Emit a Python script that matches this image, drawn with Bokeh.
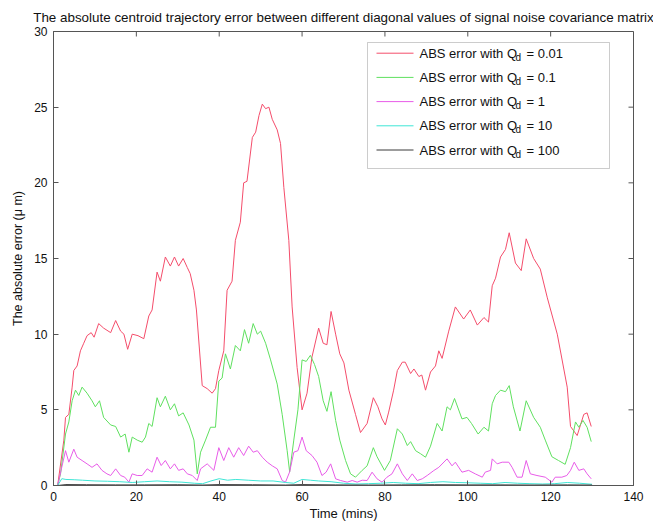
from bokeh.plotting import figure
from bokeh.models import FixedTicker, Label, BoxAnnotation, Range1d
from bokeh.embed import file_html
from bokeh.resources import INLINE

# ---------------- data ----------------
red_t = [1.0, 2.5, 2.9, 3.7, 4.5, 4.9, 5.7, 6.5, 7.3, 8.1, 9.1, 9.8, 10.9, 12.1, 13.8, 15.0,
         16.2, 17.0, 17.9, 19.0, 20.4, 21.8, 23.0, 23.8, 25.0, 25.8, 27.0, 28.2, 29.2, 30.2,
         31.3, 32.3, 33.0, 33.9, 34.5, 35.9, 37.1, 38.3, 39.1, 39.9, 41.1, 41.9, 43.1, 43.9,
         45.1, 45.9, 46.7, 48.0, 48.8, 49.6, 50.4, 51.2, 52.0, 52.8, 54.0, 54.8, 55.6, 56.8,
         57.6, 58.8, 60.0, 61.2, 62.4, 64.0, 65.1, 66.0, 67.0, 68.1, 69.1, 70.1, 71.3, 72.9,
         74.1, 75.7, 77.2, 78.3, 79.3, 80.1, 80.9, 82.1, 83.0, 84.2, 84.9, 86.2, 87.0, 88.2,
         88.9, 89.8, 91.0, 92.2, 93.0, 93.8, 95.4, 97.0, 99.0, 100.6, 102.3, 103.9, 105.0,
         105.9, 106.7, 107.9, 109.1, 110.0, 111.5, 112.9, 114.1, 115.9, 117.5, 119.2, 121.6,
         124.0, 124.8, 126.4, 128.0, 128.8, 129.8]
red_y = [0.0, 3.0, 4.5, 4.7, 6.5, 7.6, 7.9, 8.9, 9.4, 9.9, 10.1, 9.8, 10.7, 10.4, 10.1, 10.9,
         10.2, 10.0, 9.0, 10.0, 9.9, 9.7, 11.2, 11.6, 14.1, 13.5, 15.1, 14.5, 15.1, 14.5,
         15.0, 14.4, 14.0, 12.9, 11.6, 6.6, 6.4, 6.1, 6.4, 7.6, 8.9, 12.9, 13.5, 16.2,
         17.4, 20.0, 20.1, 23.0, 23.35, 24.45, 25.2, 24.9, 25.0, 24.2, 23.5, 22.6, 19.7, 16.2,
         11.8, 7.8, 5.0, 6.1, 8.5, 10.4, 9.4, 9.3, 11.5, 10.0, 8.7, 8.1, 6.3, 4.7,
         3.5, 4.1, 5.8, 5.2, 4.4, 4.0, 4.85, 6.3, 7.6, 8.15, 8.15, 7.4, 7.7, 7.2,
         7.3, 6.3, 7.5, 7.9, 8.9, 8.4, 10.2, 11.8, 11.0, 11.6, 10.6, 11.1, 10.8,
         13.2, 13.7, 15.1, 15.6, 16.7, 14.7, 14.2, 16.3, 15.0, 14.3, 12.4, 10.0,
         6.5, 3.9, 3.3, 4.7, 4.8, 3.9]

green_t = [1.0, 1.7, 2.9, 3.7, 4.5, 5.3, 6.1, 6.9, 8.1, 9.3, 10.1, 11.1, 12.1, 13.8, 15.0,
           16.2, 17.3, 18.2, 19.0, 20.2, 21.4, 22.2, 23.0, 23.8, 25.0, 25.8, 27.0, 28.2, 29.2,
           30.2, 31.3, 32.7, 33.9, 34.7, 35.5, 36.7, 37.9, 39.1, 39.9, 40.7, 41.5, 42.7, 43.9,
           45.1, 46.1, 47.1, 48.2, 49.2, 50.0, 51.2, 52.4, 54.0, 55.2, 56.4, 57.0, 58.0, 59.0,
           60.0, 61.0, 62.0, 63.0, 64.0, 65.1, 66.0, 67.0, 68.1, 69.1, 70.5, 71.7, 72.9, 74.5,
           75.7, 77.2, 78.1, 79.9, 81.3, 83.0, 84.2, 85.4, 86.2, 87.4, 88.6, 89.8, 91.0, 92.6,
           93.8, 95.0, 95.8, 96.8, 98.6, 99.8, 100.9, 102.5, 103.9, 105.0, 105.9, 106.7, 107.9,
           109.1, 110.0, 111.0, 112.6, 114.1, 115.9, 117.5, 118.7, 120.3, 121.9, 123.5, 124.8,
           126.0, 126.8, 127.8, 128.8, 129.8]
green_y = [0.0, 0.77, 3.4, 4.2, 5.6, 6.3, 5.95, 6.5, 6.1, 5.6, 5.2, 5.6, 4.5, 4.0, 3.9,
           3.2, 3.4, 2.2, 3.2, 3.0, 2.86, 3.2, 4.1, 3.9, 5.8, 5.2, 5.9, 5.0, 5.4,
           4.6, 4.8, 4.0, 3.0, 0.77, 2.2, 3.0, 3.85, 3.85, 6.9, 7.1, 8.7, 7.7, 9.25,
           8.9, 10.3, 9.4, 10.7, 10.0, 10.2, 9.4, 8.3, 6.7, 4.7, 2.3, 0.9, 3.0, 5.0,
           8.3, 8.2, 8.6, 8.0, 7.2, 5.6, 4.9, 6.2, 4.3, 3.0, 1.65, 0.77, 0.55, 1.0,
           1.3, 2.5, 1.9, 1.0, 1.65, 3.75, 3.4, 2.64, 2.9, 2.3, 2.1, 1.87, 2.6, 4.1,
           3.6, 5.2, 5.0, 5.75, 4.4, 4.5, 4.1, 3.4, 3.85, 3.6, 5.4, 5.95, 6.3,
           6.2, 6.6, 5.2, 3.6, 5.6, 4.5, 3.85, 3.0, 1.9, 1.65, 1.4, 2.5,
           4.2, 3.85, 4.3, 3.85, 2.9]

magenta_t = [1.0, 2.9, 3.7, 4.9, 5.7, 6.9, 8.1, 9.3, 10.5, 11.7, 12.9, 13.8, 15.0, 16.2, 17.2,
             18.2, 19.0, 20.2, 21.4, 22.6, 23.8, 25.0, 26.0, 27.0, 28.2, 29.2, 30.2, 31.3, 32.3,
             33.5, 34.7, 35.5, 37.1, 38.7, 39.9, 41.1, 42.3, 43.5, 44.7, 45.9, 47.1, 48.2, 49.2,
             50.4, 51.6, 52.8, 54.0, 55.2, 56.0, 57.0, 58.0, 59.0, 60.0, 61.0, 62.4, 63.6, 64.8,
             65.8, 66.9, 68.1, 69.3, 70.9, 72.1, 73.3, 74.5, 75.7, 76.9, 78.1, 79.3, 80.5, 81.7,
             83.0, 84.2, 85.4, 86.6, 87.8, 89.0, 90.2, 91.8, 93.0, 95.0, 96.2, 97.0, 98.6, 100.2,
             101.8, 103.5, 104.2, 105.5, 105.9, 107.1, 108.3, 109.9, 110.7, 111.9, 113.1, 114.1,
             115.1, 116.7, 118.7, 120.3, 121.1, 122.7, 123.9, 124.8, 125.7, 126.8, 128.0, 128.8,
             129.8]
magenta_y = [0.0, 2.3, 1.54, 2.4, 1.87, 1.65, 1.43, 1.2, 1.43, 1.0, 0.77, 0.66, 1.1, 0.66, 0.55,
             0.22, 0.77, 0.66, 0.66, 1.1, 0.88, 1.87, 1.32, 1.65, 1.1, 1.43, 1.0, 1.1, 0.77,
             0.66, 0.33, 1.1, 1.43, 1.0, 2.5, 1.65, 2.5, 1.87, 2.5, 1.98, 2.6, 2.2, 2.3,
             1.87, 1.54, 1.3, 1.1, 0.33, 0.22, 0.9, 2.2, 2.3, 3.2, 2.3, 1.98, 1.54, 0.66,
             0.88, 1.43, 0.44, 0.33, 0.22, 0.33, 0.22, 0.35, 0.33, 0.88, 0.44, 0.22, 0.55, 0.77,
             1.43, 0.77, 0.33, 0.77, 0.33, 0.44, 0.66, 0.99, 1.2, 1.76, 1.3, 1.54, 0.88, 1.0,
             0.77, 0.55, 0.88, 1.0, 1.76, 1.43, 1.54, 1.54, 1.2, 0.55, 0.55, 1.65,
             0.77, 0.66, 0.55, 0.22, 0.55, 0.55, 0.66, 1.0, 1.54, 1.0, 1.1, 0.77,
             0.44]

cyan_t = [1, 2, 3, 5, 7, 10, 13, 16, 19, 22, 25, 28, 31, 34, 36, 38, 40, 42, 44, 47, 50, 53,
          56, 58, 60, 62, 64, 67, 70, 73, 76, 79, 82, 85, 88, 91, 94, 97, 100, 103, 106, 109,
          112, 115, 118, 121, 124, 127, 130]
cyan_y = [0.0, 0.45, 0.4, 0.38, 0.35, 0.3, 0.28, 0.25, 0.2, 0.25, 0.3, 0.25, 0.22, 0.15, 0.12,
          0.3, 0.45, 0.35, 0.4, 0.35, 0.3, 0.3, 0.2, 0.15, 0.4, 0.35, 0.3, 0.25, 0.15, 0.1, 0.12,
          0.15, 0.2, 0.15, 0.12, 0.2, 0.25, 0.2, 0.18, 0.15, 0.12, 0.2, 0.15, 0.12, 0.1, 0.12,
          0.2, 0.15, 0.08]

black_t = [1, 3, 8, 15, 22, 30, 36, 40, 48, 56, 60, 68, 76, 84, 92, 100, 108, 116, 124, 130]
black_y = [0.0, 0.06, 0.05, 0.04, 0.04, 0.05, 0.03, 0.06, 0.05, 0.03, 0.06, 0.04, 0.03, 0.04,
           0.05, 0.04, 0.04, 0.03, 0.04, 0.03]

series_labels = ["0.01", "0.1", "1", "10", "100"]
series_colors = ["#f44d6b", "#5fe05f", "#e85ce8", "#3fe6d6", "#3a3a3a"]

x_ticks = [0, 20, 40, 60, 80, 100, 120, 140]
y_ticks = [0, 5, 10, 15, 20, 25, 30]

title_text = ("The absolute centroid trajectory error between different diagonal values "
              "of signal noise covariance matrix")

# ---------------- layout ----------------
FONT = "Liberation Sans"
W, H = 653, 530
FL, FR, FT, FB = 53, 633, 31, 485
X0, X1, Y0, Y1 = 0, 140, 0, 30
TICK = 5
AX_COLOR = "#555555"
TEXT_COLOR = "#111111"


def dx(px):
    return X0 + (px - FL) * (X1 - X0) / (FR - FL)


def dy(py):
    return Y0 + (FB - py) * (Y1 - Y0) / (FB - FT)


def dlen_x(px):
    return px * (X1 - X0) / (FR - FL)


def dlen_y(px):
    return px * (Y1 - Y0) / (FB - FT)


p = figure(width=W, height=H, output_backend="svg", toolbar_location=None,
           x_range=Range1d(X0, X1), y_range=Range1d(Y0, Y1),
           min_border_left=FL, min_border_right=W - FR,
           min_border_top=FT, min_border_bottom=H - FB,
           x_axis_label="Time (mins)", y_axis_label="The absolute error (μ m)",
           title=title_text)

p.title.text_font = FONT
p.title.text_font_size = "13.4px"
p.title.text_font_style = "normal"
p.title.align = "center"
p.title.text_color = TEXT_COLOR
p.title.standoff = 13

p.xgrid.visible = False
p.ygrid.visible = False
p.outline_line_color = AX_COLOR
p.outline_line_width = 1
p.background_fill_color = "white"
p.border_fill_color = "white"

for ax, ticks in ((p.xaxis[0], x_ticks), (p.yaxis[0], y_ticks)):
    ax.ticker = FixedTicker(ticks=ticks)
    ax.major_tick_in = TICK
    ax.major_tick_out = 0
    ax.minor_tick_line_color = None
    ax.axis_line_color = AX_COLOR
    ax.major_tick_line_color = AX_COLOR
    ax.major_label_text_font = FONT
    ax.major_label_text_font_size = "12px"
    ax.major_label_text_color = TEXT_COLOR
    ax.axis_label_text_font = FONT
    ax.axis_label_text_font_style = "normal"
    ax.axis_label_text_color = TEXT_COLOR
    ax.major_label_standoff = 6

p.xaxis[0].axis_label_text_font_size = "13px"
p.yaxis[0].axis_label_text_font_size = "12.5px"
p.xaxis[0].axis_label_standoff = 2
p.yaxis[0].axis_label_standoff = 6

# inward ticks on the top and right edges of the box (MATLAB style)
p.segment(x0=x_ticks, y0=[Y1] * len(x_ticks), x1=x_ticks, y1=[Y1 - dlen_y(TICK)] * len(x_ticks),
          line_color=AX_COLOR, line_width=1)
p.segment(x0=[X1] * len(y_ticks), y0=y_ticks, x1=[X1 - dlen_x(TICK)] * len(y_ticks), y1=y_ticks,
          line_color=AX_COLOR, line_width=1)

all_t = [red_t, green_t, magenta_t, cyan_t, black_t]
all_y = [red_y, green_y, magenta_y, cyan_y, black_y]
for t, y, c in zip(all_t, all_y, series_colors):
    p.line(t, y, line_color=c, line_width=1)

# ---------------- legend (drawn manually for the subscript) ----------------
LEG_L, LEG_R, LEG_T, LEG_B = 367, 609, 42, 168
ROW0, ROW_STEP = 52.7, 24.2
SAMPLE_L, SAMPLE_R, TEXT_L = 376, 413, 419
LEG_FS = 13

p.add_layout(BoxAnnotation(left=dx(LEG_L), right=dx(LEG_R), top=dy(LEG_T), bottom=dy(LEG_B),
                           fill_color="white", fill_alpha=1.0,
                           line_color=AX_COLOR, line_width=1, level="underlay"))
n = len(series_labels)
rows_y = [dy(ROW0 + i * ROW_STEP) for i in range(n)]
for ry, c in zip(rows_y, series_colors):
    p.line([dx(SAMPLE_L), dx(SAMPLE_R)], [ry, ry], line_color=c, line_width=1)
for ry, lab in zip(rows_y, series_labels):
    p.add_layout(Label(x=dx(TEXT_L), y=ry, text="ABS error with Q", text_font=FONT,
                       text_font_size=f"{LEG_FS}px", text_baseline="middle", text_color=TEXT_COLOR))
    p.add_layout(Label(x=dx(TEXT_L), y=ry, x_offset=96, y_offset=-4, text="d", text_font=FONT,
                       text_font_size="10px", text_baseline="middle", text_color=TEXT_COLOR))
    p.add_layout(Label(x=dx(TEXT_L), y=ry, x_offset=107, text="= " + lab, text_font=FONT,
                       text_font_size=f"{LEG_FS}px", text_baseline="middle", text_color=TEXT_COLOR))

open("out.html", "w").write(file_html(p, INLINE))
